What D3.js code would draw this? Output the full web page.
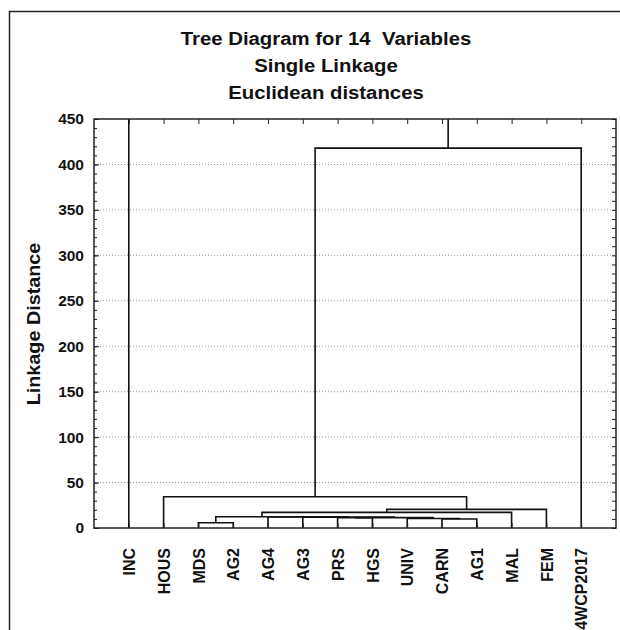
<!DOCTYPE html>
<html>
<head>
<meta charset="utf-8">
<script src="https://cdn.jsdelivr.net/npm/d3@7"></script>
<style>
  html, body { margin: 0; padding: 0; background: #fff; }
  svg { display: block; }
  text { font-family: "Liberation Sans", Arial, sans-serif; font-weight: bold; fill: #111; }
</style>
</head>
<body>
<svg id="chart" width="620" height="630"></svg>
<script>
// ---- data ----
const titleLines = ["Tree Diagram for 14  Variables", "Single Linkage", "Euclidean distances"];
const yAxisTitle = "Linkage Distance";
const leaves = ["INC", "HOUS", "MDS", "AG2", "AG4", "AG3", "PRS", "HGS", "UNIV", "CARN", "AG1", "MAL", "FEM", "4WCP2017"];
const yTicks = [0, 50, 100, 150, 200, 250, 300, 350, 400, 450];
// merges: node ids < 14 are leaves, id 14 + k is the k-th merge
const linkLeft   = [2, 9, 8, 6, 17, 5, 4, 14, 21, 22, 1, 24, 0];
const linkRight  = [3, 10, 15, 7, 16, 18, 19, 20, 11, 12, 23, 13, 25];
const linkHeight = [5.8, 9.9, 10.5, 11.2, 11.4, 12.0, 12.2, 12.4, 17.2, 20.5, 34.4, 418, 470];

// ---- layout ----
const svg = d3.select("#chart");
const L = 94, R = 616, T = 119, B = 528;
const x = d3.scaleLinear().domain([0, leaves.length + 1]).range([L, R]);
const y = d3.scaleLinear().domain([0, 450]).range([B, T]);

// outer frame
svg.append("rect").attr("x", 9.5).attr("y", 11.5).attr("width", 640).attr("height", 640)
  .attr("fill", "#fff").attr("stroke", "#222").attr("stroke-width", 1.5);

// title
svg.selectAll("text.title").data(titleLines).enter().append("text")
  .attr("class", "title")
  .attr("transform", (d, i) => `translate(326,${45 + i * 27}) scale(1.1,1)`)
  .attr("text-anchor", "middle").style("font-size", "18.5px").style("white-space", "pre")
  .text(d => d);

// y axis title
svg.append("text")
  .attr("transform", `translate(40,324) rotate(-90) scale(1.1,1)`)
  .attr("text-anchor", "middle").style("font-size", "18px").text(yAxisTitle);

// gridlines
svg.append("g").selectAll("line").data(yTicks.filter(v => v > 0 && v < 450)).enter().append("line")
  .attr("x1", L).attr("x2", R).attr("y1", d => y(d)).attr("y2", d => y(d))
  .attr("stroke", "#999").attr("stroke-width", 1).attr("stroke-dasharray", "1,2");

// node positions
const pos = leaves.map((d, i) => x(i + 1));
const hgt = leaves.map(() => 0);
linkLeft.forEach((a, k) => {
  pos.push((pos[a] + pos[linkRight[k]]) / 2);
  hgt.push(linkHeight[k]);
});

svg.append("clipPath").attr("id", "plotclip").append("rect")
  .attr("x", L).attr("y", T).attr("width", R - L).attr("height", B - T);

const dendro = svg.append("g").attr("clip-path", "url(#plotclip)");
linkLeft.forEach((a, k) => {
  const b = linkRight[k];
  const h = linkHeight[k];
  const p = d3.path();
  p.moveTo(pos[a], y(hgt[a]));
  p.lineTo(pos[a], y(h));
  p.lineTo(pos[b], y(h));
  p.lineTo(pos[b], y(hgt[b]));
  dendro.append("path").attr("d", p.toString())
    .attr("fill", "none").attr("stroke", "#111").attr("stroke-width", 1.6);
});

// axes
const minor = d3.range(0, 451, 10);
const axisStyle = g => {
  g.select(".domain").remove();
  g.selectAll("line").attr("stroke", "#222");
};
const labelStyle = (sel, size) => sel
  .style("font-size", size).style("font-family", "'Liberation Sans', Arial, sans-serif")
  .style("font-weight", "bold").attr("fill", "#111");

svg.append("g").attr("transform", `translate(${L},0)`)
  .call(d3.axisLeft(y).tickValues(minor).tickSizeInner(-3).tickSizeOuter(0).tickFormat(""))
  .call(axisStyle);
svg.append("g").attr("transform", `translate(${L},0)`)
  .call(d3.axisLeft(y).tickValues(yTicks).tickSizeInner(-5).tickSizeOuter(0).tickPadding(10))
  .call(axisStyle)
  .call(g => labelStyle(g.selectAll("text"), "15.5px"));
svg.append("g").attr("transform", `translate(${R},0)`)
  .call(d3.axisRight(y).tickValues(minor).tickSizeInner(-4).tickSizeOuter(0).tickFormat(""))
  .call(axisStyle);

svg.append("g").attr("transform", `translate(0,${T})`)
  .call(d3.axisTop(x).tickValues(d3.range(1, leaves.length + 1)).tickSizeInner(-5).tickSizeOuter(0).tickFormat(""))
  .call(axisStyle);
svg.append("g").attr("transform", `translate(0,${B})`)
  .call(d3.axisBottom(x).tickValues(d3.range(1, leaves.length + 1)).tickSizeInner(-5).tickSizeOuter(0)
    .tickFormat(i => leaves[i - 1]))
  .call(axisStyle)
  .call(g => labelStyle(g.selectAll("text")
    .attr("transform", "rotate(-90)").attr("x", -20).attr("y", 0).attr("dy", "0.36em")
    .style("text-anchor", "end"), "16px"));

// plot border
svg.append("rect").attr("x", L).attr("y", T).attr("width", R - L).attr("height", B - T)
  .attr("fill", "none").attr("stroke", "#222").attr("stroke-width", 1.5);
</script>
</body>
</html>
